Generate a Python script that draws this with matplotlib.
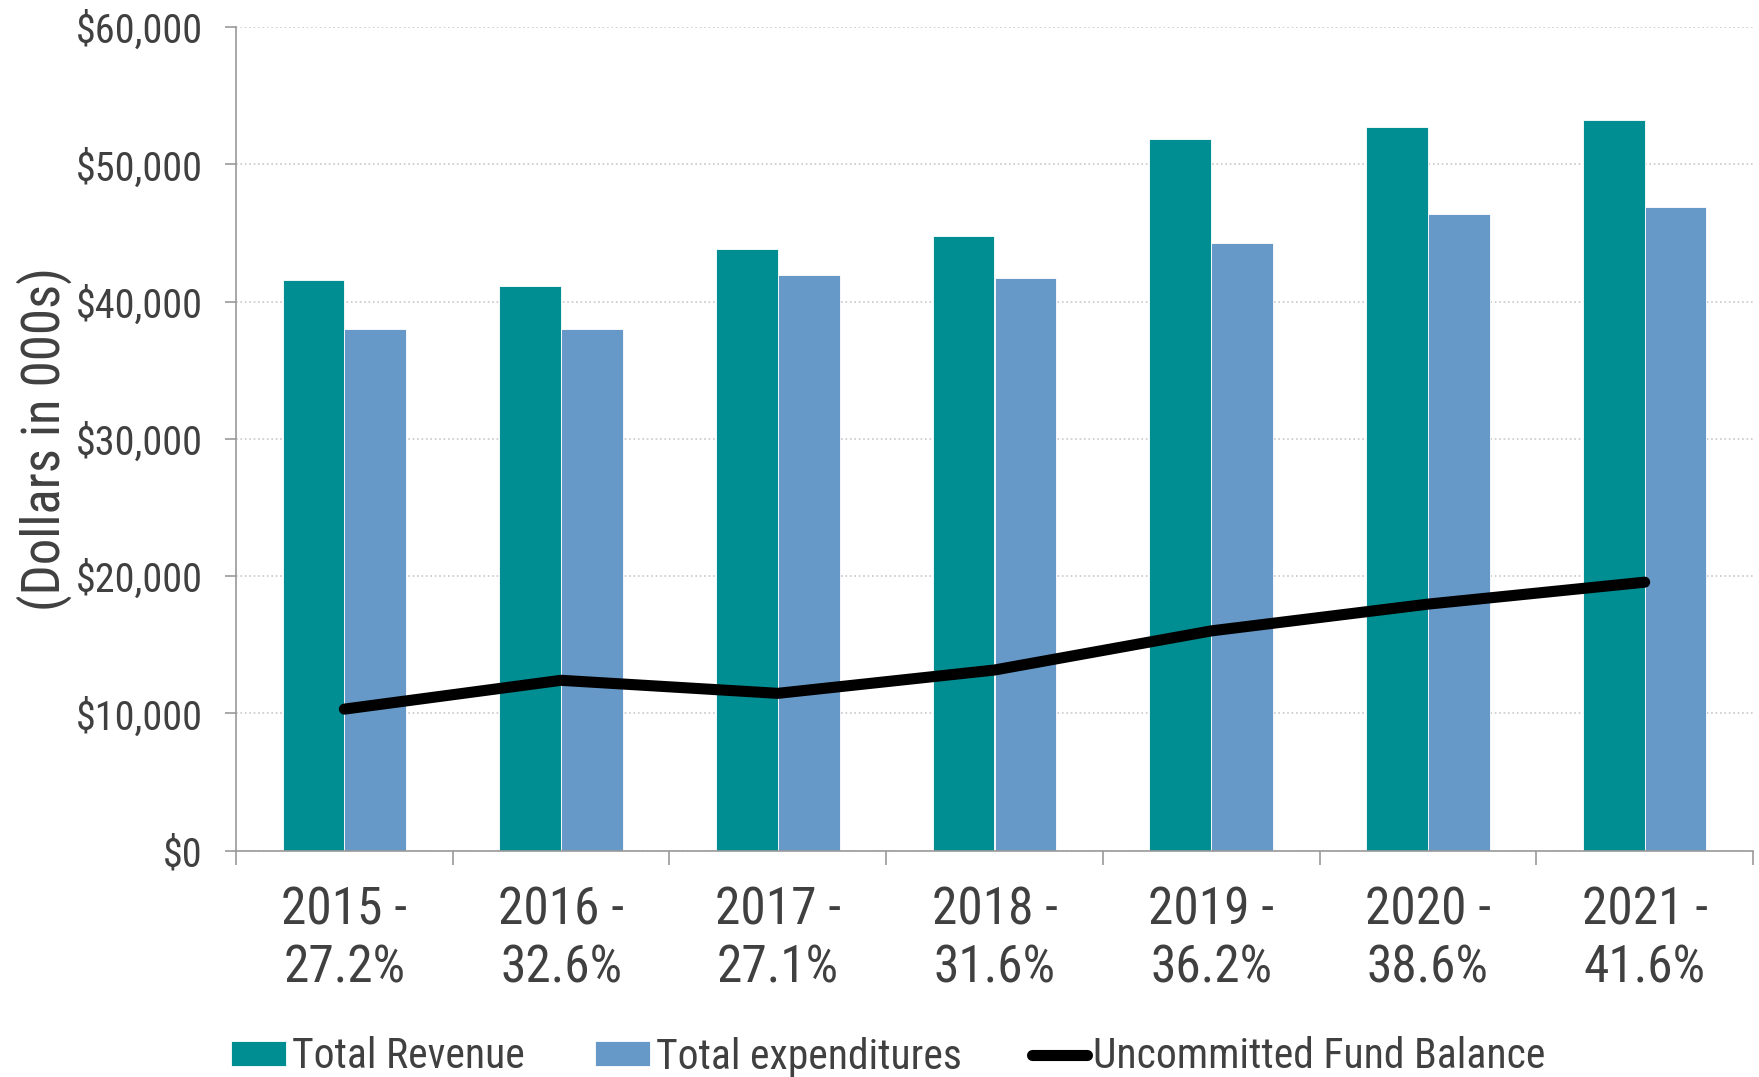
'''revenue, expenditures and uncommitted fund balance by year'''
import numpy as np
import matplotlib
matplotlib.use('Agg')
from matplotlib import pyplot as plt

years = ['2015', '2016', '2017', '2018', '2019', '2020', '2021']
balance_pct = ['27.2%', '32.6%', '27.1%', '31.6%', '36.2%', '38.6%', '41.6%']
revenue = [41600, 41100, 43800, 44800, 51850, 52700, 53200]
expenditures = [38000, 38000, 41950, 41700, 44270, 46400, 46870]
fund_balance = [10300, 12400, 11450, 13150, 16000, 17950, 19550]

teal = '#008E93'
blue = '#6699C8'
text_col = '#404040'

plt.rcParams['font.family'] = ['Roboto Condensed', 'Lato', 'DejaVu Sans']
plt.rcParams['text.color'] = text_col

fig = plt.figure(figsize=(17.59, 10.77), dpi=100)
ax = fig.add_axes([236/1759, 1 - 850.5/1077, (1753 - 236)/1759, (850.5 - 27)/1077])

x = np.arange(len(years))
w = 0.285
ax.bar(x - w/2, revenue, w, color=teal, edgecolor='white', linewidth=0.6, label='Total Revenue', zorder=2)
ax.bar(x + w/2, expenditures, w, color=blue, edgecolor='white', linewidth=0.6, label='Total expenditures', zorder=2)
ax.plot(x, fund_balance, color='black', lw=8, solid_capstyle='round', solid_joinstyle='round',
        label='Uncommitted Fund Balance', zorder=3)

ax.set_xlim(-0.5, len(years) - 0.5)
ax.set_ylim(0, 60000)
ax.set_yticks(np.arange(0, 60001, 10000))
ax.set_yticklabels([f'${v:,.0f}' for v in np.arange(0, 60001, 10000)])
ax.yaxis.grid(True, color='#C8C8C8', ls=':', lw=1.2, zorder=0)
ax.set_axisbelow(True)

# boundary ticks between categories, labels centred on the categories
ax.set_xticks(np.arange(-0.5, len(years)), labels=[])
ax.set_xticks(x, labels=[f'{y} -\n{p}' for y, p in zip(years, balance_pct)], minor=True)
ax.tick_params(axis='x', which='major', length=10, width=1.2, color='#999999')
ax.tick_params(axis='x', which='minor', length=0, pad=25, labelsize=37, labelcolor=text_col)
ax.tick_params(axis='y', length=8, width=1.2, color='#999999', pad=16, labelsize=29, labelcolor=text_col)

for side in ('top', 'right'):
    ax.spines[side].set_visible(False)
for side in ('left', 'bottom'):
    ax.spines[side].set_color('#999999')
    ax.spines[side].set_linewidth(1.2)

fig.text(44/1759, 1 - 439/1077, '(Dollars in 000s)', rotation=90, ha='center', va='center',
         fontsize=38, color=text_col)

handles, labels = ax.get_legend_handles_labels()
order = [1, 2, 0]
fig.legend([handles[i] for i in order], [labels[i] for i in order],
           loc='center', bbox_to_anchor=(0.505, 1 - 1057/1077), ncol=3, frameon=False,
           fontsize=30, handlelength=1.3, handleheight=0.55, handletextpad=0.15, columnspacing=1.7)

fig.savefig('out.png', dpi=100)
